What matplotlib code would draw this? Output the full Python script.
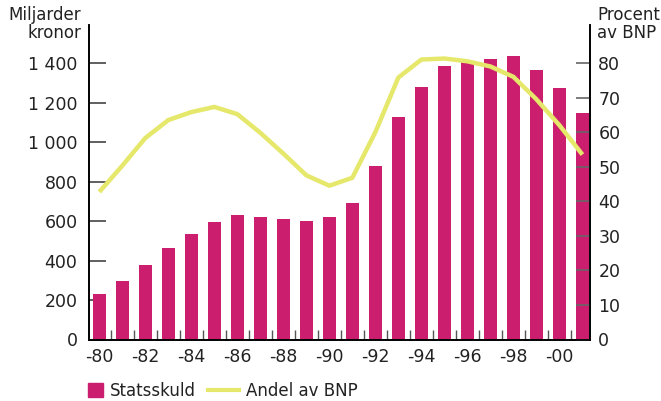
import matplotlib
matplotlib.use("Agg")
import matplotlib.pyplot as plt
import numpy as np
from matplotlib.lines import Line2D
from matplotlib.patches import Patch

# Statsskuld (miljarder kronor) and andel av BNP (procent), 1980-2001
years = list(range(1980, 2002))
skuld = [232, 298, 379, 465, 536, 596, 632, 622, 611, 601, 622, 692,
         879, 1127, 1280, 1385, 1405, 1425, 1440, 1368, 1277, 1150]
andel = [42.7, 50.3, 58.3, 63.5, 65.8, 67.3, 65.2, 59.8, 53.8, 47.5, 44.5, 46.8,
         60.0, 75.8, 81.0, 81.3, 80.5, 79.0, 76.0, 69.5, 62.0, 53.5]
xlabels = ['-80', '-82', '-84', '-86', '-88', '-90', '-92', '-94', '-96', '-98', '-00']

bar_color = '#cc1e6e'
line_color = '#e5e86a'
txt = '#222222'
plt.rcParams['font.family'] = ['DejaVu Sans']
fs = 12.5

fig = plt.figure(figsize=(6.61, 4.01), dpi=100)
ax = fig.add_axes([88.5/661, 1-339.5/401, (590-88.5)/661, (339.5-25)/401])
x = np.arange(len(years))
ax.bar(x, skuld, width=0.57, color=bar_color, zorder=2)
ax.set_xlim(-0.47, len(years) - 0.67)
ax.set_ylim(0, 1595)
ax.set_yticks(range(0, 1401, 200))
ax.set_yticklabels(['0', '200', '400', '600', '800', '1 000', '1 200', '1 400'])
ax.set_xticks(x[::2])
ax.set_xticklabels(xlabels)
ax.set_xticks(x[:-1] + 0.5, minor=True)
ax.tick_params(axis='x', which='major', length=0, pad=6, labelsize=fs, labelcolor=txt)
ax.tick_params(axis='x', which='minor', direction='in', length=7, color='#555555', width=1)
ax.tick_params(axis='y', direction='in', length=12, color='#444444', width=1.2,
               labelsize=fs, labelcolor=txt, pad=8)
ax.spines['top'].set_visible(False)
for s in ['left', 'right', 'bottom']:
    ax.spines[s].set_linewidth(1.2)
    ax.spines[s].set_color('black')

ax2 = ax.twinx()
ax2.plot(x, andel, color=line_color, lw=3.2, zorder=3, solid_capstyle='butt')
ax2.set_ylim(0, 91)
ax2.set_yticks(range(0, 81, 10))
ax2.tick_params(axis='y', direction='in', length=10, color='#666666', width=1.2,
                labelsize=fs, labelcolor=txt, pad=6)
ax2.spines['top'].set_visible(False)
for s in ['left', 'right', 'bottom']:
    ax2.spines[s].set_linewidth(1.2)

fig.text(81/661, 1-6/401, 'Miljarder\nkronor', ha='right', va='top', fontsize=12,
         color=txt, linespacing=1.0)
fig.text(597/661, 1-6/401, 'Procent\nav BNP', ha='left', va='top', fontsize=12,
         color=txt, linespacing=1.0)

leg_fs = 12
fig.legend([Patch(color=bar_color)], ['Statsskuld'], loc='center left',
           bbox_to_anchor=(88/661, 1-391/401), frameon=False, fontsize=leg_fs,
           handlelength=0.88, handleheight=0.9, handletextpad=0.45,
           borderpad=0, borderaxespad=0, labelcolor=txt)
fig.legend([Line2D([0], [0], color=line_color, lw=3.0)], ['Andel av BNP'],
           loc='center left', bbox_to_anchor=(208/661, 1-391/401), frameon=False,
           fontsize=leg_fs, handlelength=1.85, handletextpad=0.45,
           borderpad=0, borderaxespad=0, labelcolor=txt)

fig.savefig('out.png', dpi=100)
